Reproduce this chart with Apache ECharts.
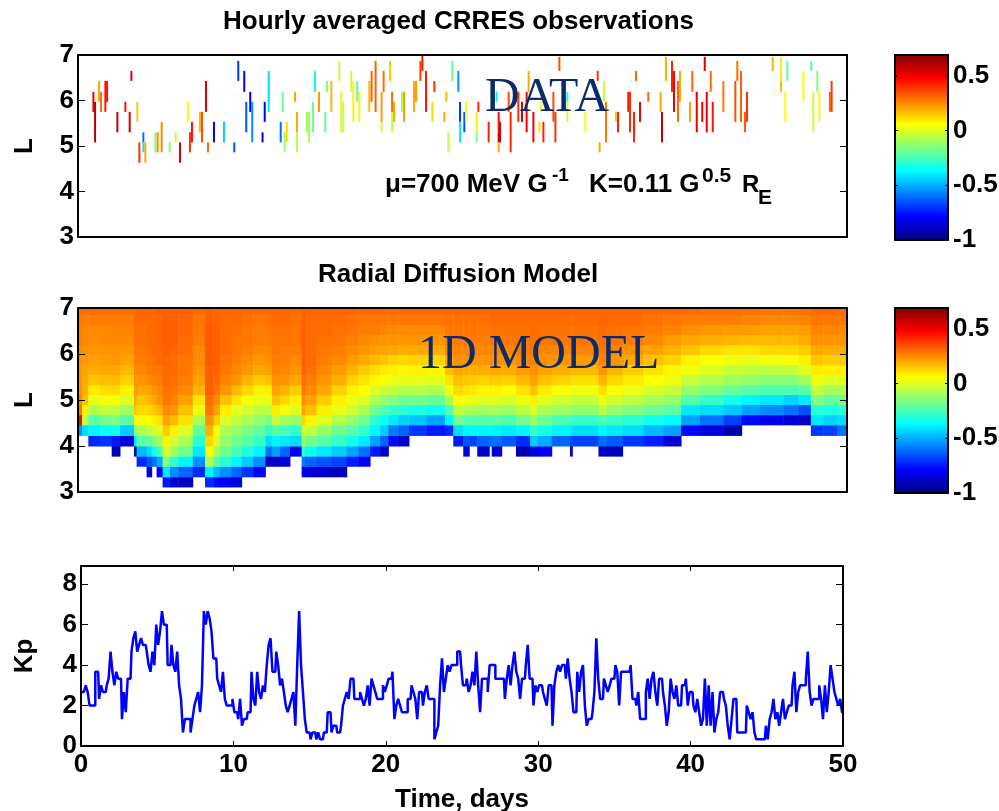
<!DOCTYPE html>
<html>
<head>
<meta charset="utf-8">
<title>CRRES observations and radial diffusion model</title>
<script src="https://cdn.jsdelivr.net/npm/echarts@6/dist/echarts.min.js"></script>
<style>
html, body { margin: 0; padding: 0; background: #fff; }
#main { width: 999px; height: 811px; }
</style>
</head>
<body>
<div id="main"></div>
<script>
// observations: one vertical stripe per entry (day, L range, log flux)
var obsDay = [
    1.00, 1.11, 1.37, 1.50, 1.78, 1.89, 2.56, 3.08, 3.36, 3.47,
    3.86, 3.99, 4.25, 4.25, 4.38, 5.03, 5.18, 5.44, 5.96, 6.35,
    6.63, 7.15, 7.28, 7.41, 7.93, 8.06, 8.32, 8.45, 8.84, 9.49,
    10.16, 10.42, 10.81, 10.94, 11.2, 11.33, 12.0, 12.14, 12.4, 13.18,
    13.31, 13.44, 13.57, 14.11, 14.24, 14.24, 14.89, 15.02, 15.28, 15.41,
    15.67, 16.08, 16.19, 16.47, 16.99, 17.12, 17.12, 17.25, 17.77, 17.9,
    18.16, 18.29, 18.94, 19.09, 19.35, 19.74, 19.74, 19.87, 20.29, 20.42,
    20.42, 20.55, 21.07, 21.2, 21.85, 21.98, 22.26, 22.39, 22.63, 23.04,
    23.17, 23.82, 23.95, 24.08, 24.34, 24.73, 24.84, 24.84, 25.12, 25.23,
    25.92, 25.92, 26.03, 26.7, 27.22, 27.35, 27.35, 27.35, 27.44, 28.0,
    28.13, 28.63, 28.87, 29.17, 29.3, 29.61, 30.0, 30.09, 30.26, 30.91,
    31.04, 31.3, 31.82, 31.82, 32.99, 33.79, 33.92, 34.2, 34.33, 34.98,
    35.11, 35.78, 35.89, 36.15, 36.28, 36.54, 37.08, 37.88, 37.97, 38.23,
    38.62, 38.75, 39.01, 39.14, 39.79, 39.94, 40.23, 40.59, 40.75, 40.88,
    41.14, 41.27, 41.96, 42.74, 42.87, 43.11, 43.37, 43.5, 45.17, 45.71,
    45.71, 45.99, 46.12, 47.16, 47.68, 47.81, 48.07, 48.2, 48.89, 49.0
];
var obsLow = [
    5.75, 5.08, 5.97, 5.75, 5.75, 5.97, 5.30, 5.75, 5.30, 6.43,
    5.53, 4.63, 5.08, 4.86, 4.63, 4.86, 4.86, 4.86, 4.86, 5.08,
    4.63, 5.53, 4.86, 5.08, 5.30, 5.08, 5.75, 4.86, 5.08, 5.08,
    4.86, 6.43, 6.19, 5.30, 5.75, 5.08, 5.08, 5.53, 5.75, 5.08,
    5.75, 4.86, 5.08, 5.97, 5.30, 4.86, 5.30, 5.08, 5.30, 6.19,
    5.75, 5.30, 6.19, 5.75, 6.43, 5.75, 5.30, 5.30, 6.19, 5.53,
    5.97, 5.53, 5.75, 5.97, 5.75, 5.53, 5.30, 6.19, 6.43, 5.75,
    5.30, 5.53, 5.75, 5.53, 5.75, 5.97, 6.43, 6.65, 5.75, 5.53,
    6.19, 5.53, 5.97, 4.86, 6.43, 6.19, 5.53, 5.08, 5.30, 5.53,
    5.30, 5.08, 5.75, 5.08, 5.97, 5.30, 5.08, 4.86, 5.08, 5.75,
    4.86, 5.53, 5.53, 5.30, 6.19, 5.08, 5.30, 5.75, 5.08, 5.53,
    5.08, 6.65, 5.97, 5.53, 5.30, 6.43, 4.86, 5.97, 5.08, 5.53,
    5.30, 5.75, 5.30, 5.08, 6.43, 5.53, 5.97, 5.75, 5.08, 6.43,
    6.19, 5.75, 5.53, 5.97, 5.53, 6.19, 5.30, 5.53, 6.65, 5.30,
    6.19, 5.30, 5.75, 5.53, 6.43, 5.53, 5.30, 5.53, 6.65, 6.43,
    6.19, 5.53, 6.43, 5.97, 6.65, 5.30, 6.19, 5.53, 5.75, 5.75
];
var obsHigh = [
    6.19, 5.97, 6.43, 6.19, 6.43, 6.43, 5.75, 5.97, 5.75, 6.65,
    5.97, 5.08, 5.30, 5.08, 5.08, 5.30, 5.30, 5.53, 5.08, 5.30,
    5.08, 5.97, 5.30, 5.53, 5.75, 5.75, 6.43, 5.08, 5.53, 5.53,
    5.08, 6.87, 6.65, 5.97, 6.19, 5.97, 5.30, 5.97, 6.65, 5.53,
    6.19, 5.30, 5.53, 6.19, 5.75, 5.30, 5.75, 5.75, 5.97, 6.65,
    6.19, 5.75, 6.43, 6.43, 6.87, 6.19, 5.75, 5.97, 6.65, 6.43,
    6.43, 6.19, 6.43, 6.65, 6.87, 6.19, 5.53, 6.65, 6.87, 6.19,
    5.75, 5.97, 6.19, 6.19, 6.43, 6.43, 6.87, 7.00, 6.65, 5.97,
    6.43, 5.75, 6.19, 5.30, 6.87, 6.65, 5.97, 5.53, 5.75, 5.97,
    5.75, 5.30, 5.97, 5.53, 6.19, 5.75, 5.30, 5.08, 5.53, 6.19,
    5.75, 6.19, 5.97, 6.19, 6.65, 5.75, 5.53, 5.97, 5.53, 6.19,
    5.75, 6.96, 6.19, 5.97, 5.75, 6.65, 5.08, 6.43, 5.97, 5.75,
    5.75, 6.19, 6.19, 5.75, 6.65, 5.97, 6.19, 6.19, 5.75, 6.96,
    6.87, 6.65, 6.43, 6.65, 5.97, 6.65, 6.19, 5.97, 6.96, 6.19,
    6.65, 5.97, 6.43, 6.43, 6.87, 6.65, 5.75, 6.19, 6.96, 6.96,
    6.43, 6.19, 6.87, 6.65, 6.87, 6.19, 6.65, 6.19, 6.19, 6.43
];
var obsFlux = [
    0.5, 0.6, 0.2, 0.3, 0.45, 0.45, 0.58, 0.45, 0.55, 0.5,
    0.15, 0.4, -0.6, -0.4, 0.2, -0.15, 0.25, 0.25, -0.15, -0.03,
    0.55, 0.05, 0.4, 0.45, 0.18, 0.35, 0.55, 0.3, -0.8, -0.45,
    -0.65, -0.7, -0.8, -0.65, -0.85, -0.55, -0.85, -0.8, -0.42, -0.6,
    -0.2, -0.12, 0.12, 0.2, 0.2, -0.07, -0.12, -0.08, -0.18, -0.36,
    0.22, -0.2, -0.15, 0.17, -0.05, 0.08, -0.03, -0.03, -0.03, 0.07,
    -0.25, 0.07, 0.17, 0.32, 0.32, 0.22, -0.03, 0.3, 0.15, 0.3,
    -0.03, 0.2, -0.1, 0.22, 0.2, 0.22, 0.38, 0.45, 0.45, 0.12,
    0.4, 0.2, 0.17, -0.05, -0.2, -0.55, -0.7, -0.4, -0.65, 0.05,
    0.08, -0.15, 0.42, 0.42, -0.38, 0.45, 0.55, 0.2, 0.55, 0.35,
    0.42, 0.4, 0.55, 0.5, 0.2, 0.5, 0.1, 0.05, 0.42, 0.35,
    0.4, 0.35, -0.35, -0.03, 0.05, 0.4, 0.2, -0.03, 0.28, 0.15,
    0.42, 0.45, 0.4, 0.42, 0.3, 0.52, 0.3, 0.2, 0.58, 0.18,
    0.42, 0.5, 0.3, 0.2, 0.22, 0.3, 0.52, 0.5, 0.55, 0.52,
    0.3, 0.45, 0.28, 0.35, 0.3, 0.32, 0.33, 0.4, 0.18, 0.08,
    0.17, 0.06, -0.2, 0.05, -0.22, -0.02, -0.15, 0.03, 0.3, 0.38
];

// model: lower L edge of each row, start day of each column, flux in hundredths
var modelL = [3.11, 3.33, 3.56, 3.78, 4.0, 4.23, 4.46, 4.68, 4.9, 5.12, 5.33, 5.55, 5.77, 5.99, 6.2, 6.42, 6.64, 6.86, 7.08];
var modelDay = [
    0, 0.26, 0.67, 1.43, 2.19, 2.73, 3.64, 3.81, 4.46, 4.79, 5.11,
    5.5, 5.98, 6.52, 7.46, 8.26, 8.8, 9.23, 9.99, 10.64, 11.4,
    12.18, 12.61, 13.13, 13.78, 14.54, 14.76, 15.52, 16.49, 17.47, 18.23,
    18.99, 19.64, 20.18, 20.83, 21.52, 22.67, 23.86, 24.4, 25.05, 25.44,
    25.96, 26.74, 26.9, 27.55, 28.48, 29.39, 29.89, 30.8, 31.99, 32.14,
    33.84, 34.38, 35.41, 36.76, 38.06, 39.21, 40.44, 41.96, 43.15, 44.34,
    45.86, 46.84, 47.65, 48.46, 49.35, 50
];
var _ = null;
var modelFlux = [
    [_,_,_,_,_,-55,47,28,25,24,23,23,24,25,27,27,28,30],
    [_,_,_,_,_,-42,-5,8,16,19,20,21,23,24,25,26,27,30],
    [_,_,_,_,-72,-38,-22,-8,2,9,15,19,21,23,24,25,27,30],
    [_,_,_,_,-70,-35,-18,-5,4,11,16,20,22,23,25,25,27,30],
    [_,_,_,-92,-75,-34,-16,-5,5,12,17,20,23,24,25,26,27,30],
    [_,_,_,_,-85,-45,-22,-10,0,8,13,17,21,23,25,26,27,30],
    [_,_,_,-95,-40,-15,5,15,20,22,24,25,27,28,29,29,30,30],
    [_,_,-72,-48,-22,-8,5,11,15,20,23,25,27,28,29,29,30,31],
    [_,-85,-65,-42,-20,-5,6,12,17,21,25,27,28,29,30,30,30,31],
    [_,_,-60,-35,-15,-2,8,14,20,23,26,28,29,30,30,30,30,31],
    [_,-80,-50,-25,-10,0,10,18,23,25,27,28,30,30,31,31,31,32],
    [-75,-40,-15,-2,8,14,21,25,28,29,30,30,31,32,32,32,32,32],
    [-85,-55,-28,-10,-2,8,17,23,26,28,29,30,30,31,32,32,32,32],
    [-90,-62,-38,-18,-8,0,10,16,21,25,27,28,28,30,30,31,31,32],
    [_,-72,-55,-40,-30,-20,-8,3,10,18,21,23,25,25,27,28,28,30],
    [-72,-38,-8,5,12,18,23,28,30,32,32,32,33,33,33,33,32,32],
    [-78,-48,-22,-8,0,6,14,21,25,28,30,31,32,32,32,32,31,31],
    [-80,-55,-30,-18,-12,-8,0,8,16,23,26,28,29,30,30,30,30,31],
    [-85,-62,-38,-25,-18,-12,-5,1,10,17,23,25,27,28,28,29,30,30],
    [_,-70,-45,-32,-22,-16,-8,-2,5,12,18,23,25,27,28,28,29,30],
    [_,-78,-55,-38,-28,-20,-12,-5,2,8,14,20,23,25,27,27,28,30],
    [_,_,-90,-60,-42,-28,-16,-6,2,8,16,21,24,26,27,28,29,30],
    [_,_,-88,-52,-38,-22,-5,8,16,21,24,26,27,28,28,29,30,31],
    [_,_,-85,-62,-40,-25,-10,4,12,18,23,25,27,27,28,29,30,30],
    [_,_,_,-80,-42,-28,-12,0,8,14,20,23,25,27,28,28,29,30],
    [_,-82,-58,-28,-10,0,12,21,25,28,30,32,32,32,32,32,32,32],
    [_,-85,-62,-35,-18,-5,7,16,21,25,27,29,30,30,30,30,30,31],
    [_,-87,-65,-40,-22,-12,0,8,14,20,23,25,27,28,29,30,30,31],
    [_,-90,-68,-45,-28,-18,-7,2,8,13,19,22,25,27,28,29,30,31],
    [_,_,-75,-52,-34,-22,-12,-3,3,8,13,18,22,25,27,28,29,31],
    [_,_,-80,-60,-40,-28,-18,-8,0,5,10,14,20,23,25,27,28,30],
    [_,_,_,-75,-52,-38,-30,-18,-8,0,7,11,17,21,24,27,28,30],
    [_,_,_,-88,-62,-45,-35,-24,-12,-3,5,9,15,21,23,26,28,30],
    [_,_,_,_,-78,-58,-40,-28,-15,-5,3,8,13,20,23,25,28,30],
    [_,_,_,_,-88,-62,-44,-30,-18,-7,2,7,12,19,23,25,28,30],
    [_,_,_,_,_,-70,-46,-32,-18,-7,2,8,13,20,23,25,28,30],
    [_,_,_,_,_,-75,-52,-34,-20,-8,1,7,12,19,23,25,28,30],
    [_,_,_,_,_,-72,-38,-24,-8,3,10,16,21,25,27,28,29,30],
    [_,_,_,_,-75,-42,-18,-5,6,12,16,20,24,26,27,28,29,31],
    [_,_,_,-85,-65,-38,-22,-8,3,10,15,19,23,26,27,28,29,31],
    [_,_,_,_,-68,-38,-22,-9,2,9,14,19,23,26,27,28,29,31],
    [_,_,_,-88,-62,-38,-22,-10,0,7,13,19,23,26,27,28,29,31],
    [_,_,_,_,-62,-38,-22,-8,1,8,15,20,24,26,28,29,30,31],
    [_,_,_,-86,-60,-38,-22,-9,0,7,14,20,24,26,28,29,30,31],
    [_,_,_,_,-64,-40,-24,-11,-1,6,13,19,23,26,28,29,30,31],
    [_,_,_,-92,-72,-38,-18,-6,3,10,17,22,25,27,28,29,30,31],
    [_,_,_,-85,-45,-28,-12,-1,8,15,21,24,26,28,29,30,30,31],
    [_,_,_,-80,-50,-33,-19,-8,1,9,16,21,24,26,28,29,30,31],
    [_,_,_,_,-62,-38,-24,-11,-2,5,13,19,23,26,28,29,30,31],
    [_,_,_,-85,-66,-40,-26,-12,-3,4,12,18,22,26,28,29,30,31],
    [_,_,_,_,-68,-42,-28,-13,-4,3,11,17,22,26,28,29,30,31],
    [_,_,_,-88,-60,-38,-24,-6,3,11,18,23,26,28,29,30,31,31],
    [_,_,_,-90,-64,-40,-27,-12,-2,5,12,18,23,26,28,29,30,31],
    [_,_,_,_,-70,-42,-30,-15,-5,2,9,14,20,24,27,28,30,31],
    [_,_,_,_,-74,-48,-34,-19,-9,-1,5,10,16,21,25,27,29,30],
    [_,_,_,_,-86,-52,-37,-22,-12,-4,3,7,13,18,22,26,28,30],
    [_,_,_,_,_,-78,-52,-40,-23,-12,-4,3,8,15,20,24,27,30],
    [_,_,_,_,_,-84,-60,-42,-28,-16,-7,0,5,12,19,23,27,29],
    [_,_,_,_,_,-92,-68,-46,-34,-20,-10,-4,3,10,18,22,27,29],
    [_,_,_,_,_,_,-78,-52,-38,-22,-12,-5,2,10,17,22,26,29],
    [_,_,_,_,_,_,-82,-56,-40,-24,-14,-6,4,12,17,21,25,28],
    [_,_,_,_,_,_,-86,-60,-44,-24,-14,-5,5,12,17,21,25,28],
    [_,_,_,_,_,_,-88,-66,-40,-22,-10,0,8,14,19,22,26,29],
    [_,_,_,_,_,-70,-40,-30,-16,-5,3,9,15,20,24,26,28,30],
    [_,_,_,_,_,-68,-44,-32,-20,-9,0,8,14,19,23,25,28,30],
    [_,_,_,_,_,-60,-42,-30,-18,-8,1,8,14,19,23,25,28,30]
];

// Kp, one value every 3 hours
var kpStep = 0.125;
var kpValues = [
    2.67,2.67,2.67,3,2.67,2,2,2,3.67,3.67,
    2.33,3,2.67,2.67,3,3.33,4.67,3.67,3,3.67,
    3.33,3.33,1.33,2.67,1.67,3.33,3.33,4.67,5.33,5.67,
    4.67,5,5.33,5,5,4.67,4,3.67,4.67,4,
    6,5,5.67,6.67,6,6,4,4,5,4,
    3.67,4.67,3,2.33,0.67,1.33,1.33,1.33,0.67,1.33,
    2,2.33,2.67,1.67,3,6.67,6,6.67,6.33,5.67,
    4.33,4.33,3.33,3,2.67,3.67,2.33,2,2,2,
    2.33,1.67,1.67,1.33,2.33,1,1.33,1.33,1.67,1.67,
    3.67,2.33,2,3.67,2.67,2.33,3,2.67,4,5,
    5.33,3.67,3.67,4.67,4,3,3.33,2.67,2,1.67,
    2,2.33,2.67,1,4,6.67,4,2.67,1.33,0.67,
    0.67,0.33,0.67,0.67,0.33,0.67,0.33,0.33,0.67,0.67,
    1.67,1.67,0.67,1,1,0.67,0.67,1,2,2.33,
    2.67,2.33,3.33,3.33,2.33,2.33,2.33,2.67,2.33,2,
    2.33,3,2,3.33,3,2.67,2.33,2.33,2.33,3,
    2.67,3,3.33,3.33,3.67,1.33,2,2.33,2,1.67,
    1.67,1.67,2.33,2.33,3,2.67,2.33,1.33,2.67,2.67,
    2,2.67,3,2.33,2.33,2.33,0.33,0.67,1,3,
    4.33,2.67,3.33,4,3.67,4,4,4,4.67,4.67,
    4,3,3,3.33,2.67,3,3.67,3,4.67,3,
    1.67,3.33,3.33,3.33,2.67,4,4,4,3.33,3.33,
    3.33,3.33,3.33,2.33,3.33,4,3,4,4.67,3.67,
    3.33,2.33,3.33,3.33,4,5,3.33,3.33,2,3,
    2.67,3,3,2.67,2.33,2,3,3,1,3,
    3.67,4,3.67,4,4,3.33,4.33,3.33,2.67,1.67,
    1.67,3.67,2.67,3.67,4,2,1,1.33,1.33,1.67,
    2.67,5.33,3.33,2.33,2.33,3.33,3,2.67,3,3.33,
    3.33,4,3.67,2,3.67,3.67,3.67,3.67,3.67,4,
    2.33,2.33,2,2.67,1.33,1.33,1.33,2.67,3.33,2.33,
    3.33,3.67,2.67,2,3.33,3.33,2.67,2,1,1.67,
    3.33,2.67,2.33,3,2,2,3,3,3.33,2,
    2.67,2.67,2,1.67,2.33,1.67,1,1.33,3.33,1,
    3,1,2.67,0.67,1.33,1.67,2.67,2.67,2.33,2,
    1,0.33,1.33,2.33,2.33,0.67,0.67,0.67,0.67,0.67,
    2,1.67,1.33,1.67,0.67,0.33,0.33,0.33,0.33,0.33,
    1,0.33,1.33,1.67,2.33,1.33,1.67,1,1.67,2.33,
    1.33,1.67,2,2,3,3.67,1.67,2.67,3,3,
    3,3.33,4.67,2.67,2,2.33,2.33,2.33,3,2.33,
    1.33,3,1.67,2.67,4,3.33,2.67,2.33,2,2.33,
    1.67
];

var yLabels = [3, 4, 5, 6, 7];
var kpTicks = [0, 2, 4, 6, 8];
var timeTicks = [0, 10, 20, 30, 40, 50];
var barTicks = [-1, -0.5, 0, 0.5];
var fluxMin = -1;
var fluxMax = 0.69;
var jetColors = ['#00007f', '#0000ff', '#007fff', '#00ffff', '#7fff7f', '#ffff00', '#ff7f00', '#ff0000', '#7f0000'];

var obsRows = obsDay.map(function (d, i) {
    return [d, obsLow[i], obsHigh[i], obsFlux[i]];
});

// day start, day end, L low, flux, L high
var modelRows = [];
modelFlux.forEach(function (col, c) {
    col.forEach(function (v, k) {
        if (v !== null) {
            modelRows.push([modelDay[c], modelDay[c + 1], modelL[k], v / 100, modelL[k + 1]]);
        }
    });
});

var kpLine = kpValues.map(function (v, i) {
    return [i * kpStep, v];
});

function labelFont() {
    return {color: '#000', fontFamily: 'Liberation Sans', fontWeight: 'bold', fontSize: 26};
}

function renderStripe(params, api) {
    var top = api.coord([api.value(0), api.value(2)]);
    var bottom = api.coord([api.value(0), api.value(1)]);
    return {
        type: 'rect',
        shape: {x: top[0] - 1, y: top[1], width: 2, height: bottom[1] - top[1]},
        style: {fill: api.visual('color')}
    };
}

function renderCell(params, api) {
    var a = api.coord([api.value(0), api.value(4)]);
    var b = api.coord([api.value(1), api.value(2)]);
    var shape = echarts.graphic.clipRectByRect(
        {x: a[0], y: a[1], width: b[0] - a[0] + 0.5, height: b[1] - a[1] + 0.5},
        params.coordSys
    );
    return shape && {type: 'rect', shape: shape, style: {fill: api.visual('color')}};
}

function renderBar(params, api) {
    var a = api.coord([0, fluxMax]);
    var b = api.coord([1, fluxMin]);
    var stops = jetColors.map(function (c, i) {
        return {offset: i / (jetColors.length - 1), color: c};
    });
    return {
        type: 'rect',
        shape: {x: a[0], y: a[1], width: b[0] - a[0], height: b[1] - a[1]},
        style: {fill: new echarts.graphic.LinearGradient(0, 1, 0, 0, stops)}
    };
}

// x axes: one along the bottom and one along the top of each grid
function xAxisPair(grid, withTicks) {
    return ['bottom', 'top'].map(function (pos) {
        return {
            type: 'value', gridIndex: grid, position: pos, min: 0, max: 50, interval: 10, z: 5,
            axisLine: {show: true, onZero: false, lineStyle: {color: '#000', width: 2}},
            axisTick: {show: withTicks, inside: true, length: 5, lineStyle: {color: '#000', width: 1}},
            axisLabel: {show: false},
            splitLine: {show: false}
        };
    });
}

function yAxisPair(grid, min, max, ticks, name, gap, lift) {
    return ['left', 'right'].map(function (pos) {
        var axis = {
            type: 'value', gridIndex: grid, position: pos, min: min, max: max, z: 5,
            axisLine: {show: true, onZero: false, lineStyle: {color: '#000', width: 2}},
            axisTick: {show: true, inside: true, length: 7, customValues: ticks, lineStyle: {color: '#000', width: 1}},
            axisLabel: {show: false},
            splitLine: {show: false}
        };
        if (pos === 'left') {
            axis.axisLabel = Object.assign(labelFont(), {show: true, customValues: ticks, margin: 4, padding: [0, 0, lift, 0]});
            axis.name = name;
            axis.nameLocation = 'middle';
            axis.nameGap = gap;
            axis.nameRotate = 90;
            axis.nameTextStyle = labelFont();
        }
        return axis;
    });
}

function barAxes(grid) {
    return ['left', 'right'].map(function (pos) {
        var axis = {
            type: 'value', gridIndex: grid, position: pos, min: fluxMin, max: fluxMax, z: 5,
            axisLine: {show: true, onZero: false, lineStyle: {color: '#000', width: 2}},
            axisTick: {show: true, inside: true, length: 3, customValues: barTicks, lineStyle: {color: '#000', width: 1}},
            axisLabel: {show: false},
            splitLine: {show: false}
        };
        if (pos === 'right') {
            axis.axisLabel = Object.assign(labelFont(), {show: true, customValues: barTicks, margin: 5, padding: [0, 0, 14, 0]});
        }
        return axis;
    });
}

function barX(grid) {
    return ['bottom', 'top'].map(function (pos) {
        return {
            type: 'value', gridIndex: grid, position: pos, min: 0, max: 1, z: 5,
            axisLine: {show: true, onZero: false, lineStyle: {color: '#000', width: 2}},
            axisTick: {show: false}, axisLabel: {show: false}, splitLine: {show: false}
        };
    });
}

var timeAxis = xAxisPair(2, true);
timeAxis[0].axisLabel = Object.assign(labelFont(), {show: true, customValues: timeTicks, margin: 6});
timeAxis[0].name = 'Time, days';
timeAxis[0].nameLocation = 'middle';
timeAxis[0].nameGap = 41;
timeAxis[0].nameTextStyle = labelFont();

function note(text, x, y, size) {
    return {
        type: 'text', x: x, y: y, z: 20,
        style: {text: text, fill: '#000', font: 'bold ' + size + 'px "Liberation Sans"'}
    };
}

function bigNote(text, x, y) {
    return {
        type: 'text', x: x, y: y, z: 20,
        style: {text: text, fill: '#0d2a6b', font: '48px "Liberation Serif"'}
    };
}

var option = {
    animation: false,
    backgroundColor: '#fff',
    title: [
        {text: 'Hourly averaged CRRES observations', left: 223, top: 9, padding: 0, textStyle: {color: '#000', fontFamily: 'Liberation Sans', fontWeight: 'bold', fontSize: 26}},
        {text: 'Radial Diffusion Model', left: 318, top: 262, padding: 0, textStyle: {color: '#000', fontFamily: 'Liberation Sans', fontWeight: 'bold', fontSize: 26}}
    ],
    // fixed boxes, labels of the colour bars would otherwise squeeze them
    grid: [
        {left: 78, top: 55, width: 769, height: 182, outerBoundsMode: 'none'},
        {left: 78, top: 308, width: 769, height: 184, outerBoundsMode: 'none'},
        {left: 81, top: 566, width: 762, height: 180, outerBoundsMode: 'none'},
        {left: 895, top: 55, width: 53, height: 185, outerBoundsMode: 'none'},
        {left: 895, top: 308, width: 53, height: 185, outerBoundsMode: 'none'}
    ],
    xAxis: [].concat(xAxisPair(0, false), xAxisPair(1, false), timeAxis, barX(3), barX(4)),
    yAxis: [].concat(
        yAxisPair(0, 3, 7, yLabels, 'L', 40, 14),
        yAxisPair(1, 3, 7, yLabels, 'L', 40, 14),
        yAxisPair(2, 0, 8.9, kpTicks, 'Kp', 43, 11),
        barAxes(3),
        barAxes(4)
    ),
    visualMap: {
        show: false, type: 'continuous', min: fluxMin, max: fluxMax,
        seriesIndex: [0, 1], dimension: 3,
        inRange: {color: jetColors}
    },
    series: [
        {
            type: 'custom', name: 'CRRES', xAxisIndex: 0, yAxisIndex: 0, clip: true,
            renderItem: renderStripe, data: obsRows, encode: {x: 0, y: [1, 2]}, z: 3
        },
        {
            type: 'custom', name: 'Model', xAxisIndex: 2, yAxisIndex: 2, clip: true,
            renderItem: renderCell, data: modelRows, encode: {x: [0, 1], y: [2, 4]}, z: 2
        },
        {
            type: 'line', name: 'Kp', xAxisIndex: 4, yAxisIndex: 4, data: kpLine, step: 'middle',
            showSymbol: false, lineStyle: {color: '#0000ff', width: 2.5}, itemStyle: {color: '#0000ff'}, z: 3
        },
        {type: 'custom', xAxisIndex: 6, yAxisIndex: 6, renderItem: renderBar, data: [[0, 0]], z: 2, silent: true},
        {type: 'custom', xAxisIndex: 8, yAxisIndex: 8, renderItem: renderBar, data: [[0, 0]], z: 2, silent: true}
    ],
    graphic: [
        bigNote('DATA', 485, 74),
        bigNote('1D MODEL', 418, 331),
        note('\u03bc=700 MeV G', 385, 172, 26),
        note('-1', 552, 166, 19),
        note('K=0.11 G', 589, 172, 26),
        note('0.5', 702, 166, 21),
        note('R', 742, 173, 24),
        note('E', 758, 188, 21)
    ]
};

var myChart = echarts.init(document.getElementById('main'));
myChart.setOption(option);
</script>
</body>
</html>
